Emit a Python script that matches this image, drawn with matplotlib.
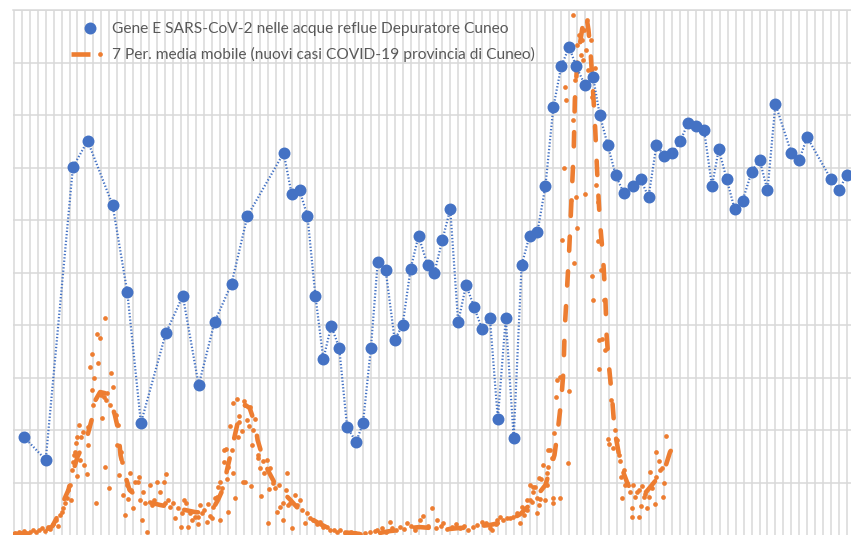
import matplotlib
matplotlib.use("Agg")
import matplotlib.pyplot as plt
from matplotlib.lines import Line2D
from matplotlib.legend_handler import HandlerTuple
from matplotlib.ticker import MultipleLocator

BLUE = "#4472C4"
ORANGE = "#ED7D31"
GRID = "#d9d9d9"

labels = ["Gene E SARS-CoV-2 nelle acque reflue Depuratore Cuneo",
          "7 Per. media mobile (nuovi casi COVID-19 provincia di Cuneo)"]

# giorni dal 24/08/2020 - campioni acque reflue (unita' relative)
gene_day = [9, 28, 52, 65, 87, 100, 112, 134, 149, 163,
            177, 192, 206, 238, 245, 252, 259, 266, 273, 280,
            287, 294, 302, 308, 315, 321, 328, 336, 343, 350,
            357, 365, 371, 378, 385, 392, 399, 406, 413, 420,
            427, 434, 441, 448, 455, 462, 469, 476, 483, 490,
            496, 504, 511, 517, 524, 531, 538, 546, 553, 560,
            567, 574, 581, 588, 595, 602, 609, 616, 622, 629,
            636, 643, 651, 658, 665, 672, 686, 693, 700, 721,
            728, 735]
gene_val = [18.7, 14.4, 70.1, 75.1, 62.9, 46.3, 21.4, 38.5, 45.6, 28.6,
            40.6, 47.9, 60.8, 72.8, 65.0, 65.7, 60.8, 45.6, 33.6, 39.9,
            35.7, 20.6, 17.8, 21.4, 35.7, 52.0, 50.5, 37.2, 40.1, 50.7,
            57.0, 51.5, 50.0, 56.2, 62.1, 40.6, 47.7, 43.5, 39.3, 41.4,
            22.2, 41.4, 18.6, 51.5, 57.0, 57.8, 66.5, 81.5, 89.3, 93.0,
            89.3, 85.7, 87.3, 80.0, 74.3, 68.6, 65.2, 66.5, 67.8, 64.4,
            74.3, 72.2, 72.8, 75.1, 78.5, 77.9, 77.2, 66.5, 73.5, 67.8,
            62.1, 63.7, 69.2, 71.5, 65.7, 82.1, 72.8, 71.5, 75.8, 67.8,
            65.7, 68.6]

# nuovi casi giornalieri
case_day = [1, 4, 6, 9, 11, 14, 17, 19, 22, 25, 27, 30, 32, 34, 37, 39, 41, 42, 43, 45,
            47, 48, 49, 50, 51, 52, 53, 54, 55, 56, 56, 57, 58, 59, 61, 62, 64, 65, 65, 67,
            69, 69, 70, 71, 72, 73, 74, 76, 77, 78, 79, 80, 80, 81, 82, 84, 85, 86, 87, 90,
            91, 92, 93, 94, 95, 96, 98, 100, 101, 102, 103, 105, 107, 109, 110, 111, 113, 114, 116, 117,
            120, 122, 124, 126, 129, 132, 133, 134, 136, 138, 140, 142, 145, 147, 148, 150, 152, 154, 155, 157,
            160, 162, 162, 164, 166, 168, 170, 171, 173, 175, 176, 177, 179, 180, 182, 182, 184, 185, 185, 187,
            188, 189, 189, 191, 192, 193, 193, 195, 197, 198, 199, 199, 201, 202, 203, 204, 206, 207, 208, 209,
            210, 211, 213, 215, 215, 217, 218, 220, 221, 223, 224, 225, 226, 229, 230, 232, 234, 235, 237, 237,
            240, 241, 242, 244, 245, 248, 250, 252, 254, 257, 259, 261, 264, 267, 270, 273, 276, 279, 282, 285,
            288, 292, 297, 301, 305, 310, 314, 319, 320, 325, 328, 332, 334, 337, 341, 344, 347, 350, 354, 358,
            361, 365, 369, 372, 373, 377, 379, 382, 387, 390, 394, 397, 401, 405, 409, 413, 417, 420, 422, 425,
            426, 429, 432, 435, 438, 440, 444, 447, 448, 450, 453, 453, 455, 455, 457, 458, 458, 460, 462, 462,
            463, 463, 464, 465, 467, 469, 470, 470, 471, 471, 473, 475, 476, 476, 477, 478, 479, 482, 482, 484,
            485, 486, 487, 489, 490, 492, 493, 493, 494, 495, 496, 497, 497, 499, 500, 501, 502, 503, 504, 505,
            506, 507, 509, 510, 510, 511, 513, 514, 515, 515, 516, 516, 518, 519, 521, 522, 524, 525, 527, 529,
            530, 532, 534, 535, 536, 537, 538, 539, 541, 544, 545, 545, 546, 548, 550, 552, 552, 553, 554, 556,
            557, 559, 560, 561, 563, 566, 567, 567, 569, 570, 572, 573, 574, 575]
case_val = [10, 13, 10, 17, 10, 13, 21, 13, 21, 29, 17, 32, 25, 44, 59, 36, 78, 89, 105, 124,
            143, 173, 192, 135, 249, 280, 306, 318, 352, 375, 226, 420, 287, 375, 394, 268, 234, 413, 344, 640,
            690, 554, 497, 599, 124, 767, 656, 752, 535, 447, 527, 261, 828, 516, 542, 181, 497, 618, 565, 459,
            344, 420, 230, 318, 280, 154, 78, 192, 139, 238, 173, 105, 204, 204, 223, 135, 59, 166, 124, 13,
            192, 116, 135, 204, 166, 204, 124, 234, 135, 108, 124, 67, 105, 32, 86, 135, 124, 32, 86, 59,
            70, 70, 44, 116, 86, 97, 51, 120, 74, 67, 108, 143, 147, 185, 204, 59, 181, 280, 325, 329,
            215, 261, 89, 417, 325, 504, 238, 143, 520, 375, 455, 432, 398, 204, 512, 204, 440, 417, 489, 188,
            344, 402, 443, 306, 295, 257, 150, 284, 238, 287, 48, 177, 257, 200, 181, 89, 192, 108, 124, 59,
            173, 238, 116, 124, 29, 154, 116, 135, 97, 48, 86, 67, 59, 44, 51, 32, 32, 21, 21, 13,
            21, 10, 13, 10, 6, 10, 13, 17, 21, 29, 13, 51, 29, 21, 32, 25, 48, 36, 21, 59,
            74, 36, 105, 29, 59, 36, 48, 25, 32, 44, 29, 36, 21, 32, 40, 51, 48, 29, 21, 44,
            59, 70, 59, 67, 67, 70, 86, 48, 108, 78, 135, 97, 192, 135, 128, 185, 166, 185, 143, 86,
            219, 116, 139, 215, 268, 135, 238, 192, 261, 325, 325, 295, 143, 124, 390, 527, 592, 143, 603, 1124,
            1399, 1708, 1658, 276, 550, 1277, 1581, 1981, 1037, 1734, 1288, 1170, 1867, 1905, 1829, 1886, 1810, 1924, 1300, 1848,
            1962, 1772, 1886, 1669, 988, 896, 1779, 1334, 1121, 1269, 744, 634, 1010, 748, 896, 706, 367, 348, 516, 333,
            402, 363, 306, 284, 223, 143, 249, 192, 200, 166, 70, 105, 192, 147, 166, 70, 173, 112, 188, 147,
            158, 105, 147, 242, 181, 120, 223, 318, 284, 249, 257, 147, 200, 379]

# media mobile a 7 giorni
ma_day = [0, 10, 19, 27, 34, 39, 43, 48, 52, 56, 61, 65, 69, 72, 76, 80, 85, 89, 92, 94,
          98, 102, 109, 118, 129, 139, 151, 160, 169, 175, 180, 184, 187, 191, 195, 199, 204, 208, 213, 215,
          219, 224, 230, 237, 244, 252, 261, 270, 279, 288, 297, 305, 314, 323, 332, 341, 350, 358, 367, 376,
          385, 394, 402, 411, 420, 429, 438, 447, 455, 462, 469, 473, 477, 480, 483, 485, 486, 488, 490, 492,
          494, 495, 497, 500, 502, 505, 507, 509, 511, 513, 515, 517, 520, 522, 523, 525, 528, 530, 534, 537,
          542, 547, 553, 558, 563, 568, 574, 579, 582]
ma_val = [6, 6, 10, 17, 36, 78, 124, 173, 242, 299, 344, 383, 447, 516, 546, 542, 516, 459, 402, 306,
          230, 173, 147, 128, 116, 108, 97, 89, 86, 97, 135, 173, 230, 306, 383, 459, 497, 485, 421, 363,
          306, 249, 200, 166, 135, 97, 67, 44, 25, 13, 10, 6, 6, 10, 17, 21, 29, 32, 29, 25,
          25, 29, 29, 36, 40, 48, 59, 82, 116, 154, 192, 249, 306, 402, 516, 630, 782, 934, 1087, 1277,
          1467, 1658, 1791, 1886, 1943, 1981, 1924, 1829, 1696, 1543, 1353, 1201, 1049, 896, 763, 649, 516, 402, 306, 249,
          192, 166, 158, 166, 192, 219, 249, 318, 337]

fig = plt.figure(figsize=(8.51, 5.35), dpi=100)
ax = fig.add_axes([13 / 851, -0.5 / 535, 838 / 851, 525.5 / 535])
ax.set_xlim(-0.88, 738.7)
ax.set_ylim(0, 2000)
ax.xaxis.set_major_locator(MultipleLocator(7))
ax.yaxis.set_major_locator(MultipleLocator(200))
ax.grid(True, color=GRID, lw=1.1)
ax.set_axisbelow(True)
ax.tick_params(length=0, labelbottom=False, labelleft=False)
for name, sp in ax.spines.items():
    sp.set_visible(name == "top")
ax.spines["top"].set_color(GRID)
ax.spines["top"].set_linewidth(1.1)

ax.plot(case_day, case_val, "o", ms=3.4, color=ORANGE, mec="none", zorder=2)
ax.plot(ma_day, ma_val, color=ORANGE, lw=3.3, dashes=(3.1, 4.5),
        dash_capstyle="round", zorder=3)

ax2 = ax.twinx()
ax2.set_ylim(0, 100)
ax2.axis("off")
ax2.plot(gene_day, gene_val, color=BLUE, lw=1.6, dashes=(0.6, 0.9),
         marker="o", ms=8.6, mec="none")

## legenda
h1 = Line2D([], [], ls="none", marker="o", ms=8.6, color=BLUE, mec="none")
h2a = Line2D([], [], color=ORANGE, lw=3.3, solid_capstyle="butt")
h2b = Line2D([], [], ls="none", marker="o", ms=3.4, color=ORANGE, mec="none")
fig.legend([h1, (h2a, h2b)], labels,
           handler_map={tuple: HandlerTuple(ndivide=None, pad=0)},
           loc="upper left", bbox_to_anchor=(71 / 851, 1 - 22.5 / 535),
           frameon=False, prop={"family": "Lato", "size": 11.2},
           labelcolor="#595959", handlelength=2.45, handletextpad=0.2,
           labelspacing=0.70, borderpad=0, borderaxespad=0)

fig.savefig("out.png", dpi=100)
